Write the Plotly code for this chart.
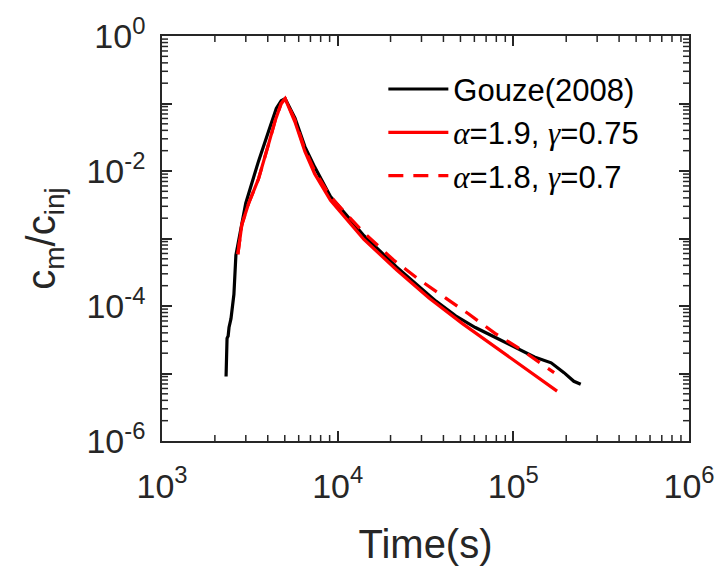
import math
import plotly.graph_objects as go

# ---- data ----
gouze_t = [2316, 2346, 2380, 2407, 2470, 2567, 2634, 2810, 2998, 3116, 3545, 4034, 4473, 4771,
           5024, 5717, 6507, 7403, 9100, 11338, 14110, 21617, 27990, 36250, 46930, 60740,
           78640, 101800, 131800, 164200, 194200, 221000, 241900]
gouze_c = [9.05e-6, 3.32e-5, 3.6e-5, 4.8e-5, 6.48e-5, 1.49e-4, 5.67e-4, 1.35e-3, 3.33e-3, 4.64e-3,
           1.40e-2, 3.80e-2, 8.47e-2, 0.110, 0.118, 0.0606, 0.0230, 0.01143, 4.20e-3, 2.15e-3,
           1.10e-3, 3.80e-4, 2.08e-4, 1.18e-4, 7.16e-5, 4.80e-5, 3.44e-5, 2.46e-5, 1.76e-5,
           1.44e-5, 1.03e-5, 7.66e-6, 6.93e-6]

fit1_t = [2703, 2847, 3116, 3545, 4034, 4416, 4771, 5024, 5717, 6507, 7403, 9100, 11338,
          14110, 21617, 33110, 51340, 78640, 120400, 177400]
fit1_c = [5.86e-4, 1.60e-3, 3.33e-3, 7.66e-3, 0.0246, 0.0567, 0.100, 0.118, 0.0531, 0.0195,
          9.05e-3, 3.68e-3, 1.88e-3, 9.68e-4, 3.44e-4, 1.31e-4, 5.48e-5, 2.46e-5, 1.14e-5, 5.48e-6]

fit2_t = [2703, 2847, 3116, 3545, 4034, 4416, 4771, 5024, 5717, 6507, 7403, 9100, 11338,
          14110, 20800, 29100, 41240, 55510, 78640, 111400, 170700]
fit2_c = [5.86e-4, 1.60e-3, 3.33e-3, 7.66e-3, 0.0246, 0.0567, 0.100, 0.118, 0.0567, 0.0208,
          0.0100, 4.20e-3, 2.23e-3, 1.22e-3, 4.80e-4, 2.46e-4, 1.31e-4, 7.66e-5, 3.93e-5,
          2.23e-5, 1.03e-5]

GREEK = "<span style='font-family:Liberation Serif;font-style:italic'>{}</span>"
names = ["Gouze(2008)",
         GREEK.format("α") + "=1.9, " + GREEK.format("γ") + "=0.75",
         GREEK.format("α") + "=1.8, " + GREEK.format("γ") + "=0.7"]

x_decades = [3, 4, 5, 6]
y_decades = [-6, -5, -4, -3, -2, -1, 0]

AX = "#262626"
FONT = "Liberation Sans, Arial, sans-serif"

fig = go.Figure()
fig.add_trace(go.Scatter(x=gouze_t, y=gouze_c, mode="lines", name=names[0],
                         line=dict(color="black", width=3.2)))
fig.add_trace(go.Scatter(x=fit1_t, y=fit1_c, mode="lines", name=names[1],
                         line=dict(color="#ff0000", width=3.2)))
fig.add_trace(go.Scatter(x=fit2_t, y=fit2_c, mode="lines", name=names[2],
                         line=dict(color="#ff0000", width=3.2, dash="15px,10px")))

x_tickvals = [10.0 ** d for d in x_decades]
x_ticktext = [f"10<sup>{d}</sup>" for d in x_decades]
y_tickvals = [10.0 ** d for d in y_decades]
y_ticktext = [f"10<sup>{d}</sup>" if d % 2 == 0 else "" for d in y_decades]

# minor (2..9) log ticks drawn as short decoration lines inside the frame, on all 4 sides
MINOR_LEN = 6
x_lo, x_hi = x_decades[0], x_decades[-1]
y_lo, y_hi = y_decades[0], y_decades[-1]
shapes = []
tick_line = dict(color=AX, width=1.5)
for d in x_decades[:-1]:
    for k in range(2, 10):
        f = (math.log10(k) + d - x_lo) / (x_hi - x_lo)
        for anchor, sign in ((0, 1), (1, -1)):
            shapes.append(dict(type="line", xref="x domain", yref="y domain",
                               ysizemode="pixel", yanchor=anchor,
                               x0=f, x1=f, y0=0, y1=sign * MINOR_LEN, line=tick_line))
for d in y_decades[:-1]:
    for k in range(2, 10):
        f = (math.log10(k) + d - y_lo) / (y_hi - y_lo)
        for anchor, sign in ((0, 1), (1, -1)):
            shapes.append(dict(type="line", xref="x domain", yref="y domain",
                               xsizemode="pixel", xanchor=anchor,
                               x0=0, x1=sign * MINOR_LEN, y0=f, y1=f, line=tick_line))

axis_common = dict(type="log", showline=True, linecolor=AX, linewidth=1.5, mirror="ticks",
                   ticks="inside", ticklen=10, tickcolor=AX, tickwidth=1.5, showgrid=False,
                   zeroline=False, tickfont=dict(family=FONT, size=34, color=AX),
                   tickmode="array")

fig.update_layout(
    xaxis=dict(**axis_common, range=[x_lo, x_hi],
               tickvals=x_tickvals, ticktext=x_ticktext, ticklabelstandoff=14,
               title=dict(text="Time(s)", font=dict(family=FONT, size=40, color=AX), standoff=26)),
    yaxis=dict(**axis_common, range=[y_lo, y_hi],
               tickvals=y_tickvals, ticktext=y_ticktext, ticklabelstandoff=8,
               title=dict(text="c<sub>m</sub>/c<sub>inj</sub>",
                          font=dict(family=FONT, size=40, color=AX), standoff=18)),
    shapes=shapes,
    width=727, height=571,
    margin=dict(l=162, r=30, t=29, b=128),
    paper_bgcolor="white", plot_bgcolor="white",
    font=dict(family=FONT, color=AX),
    legend=dict(x=0.42, y=0.935, xanchor="left", yanchor="top",
                bgcolor="rgba(0,0,0,0)", borderwidth=0,
                font=dict(family=FONT, size=31, color="black"),
                itemwidth=60, tracegroupgap=0),
    showlegend=True,
)

fig.write_html("out.html")
